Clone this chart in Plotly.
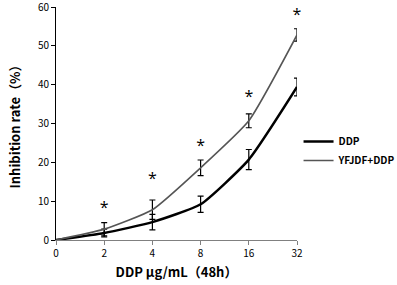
import plotly.graph_objects as go

doses = ["0", "2", "4", "8", "16", "32"]
ddp = [0, 1.8, 4.6, 9.2, 20.7, 39.4]
ddp_err = [0, 1.0, 2.0, 2.1, 2.6, 2.3]
combo = [0, 2.8, 7.8, 18.6, 30.7, 52.8]
combo_err = [0, 1.7, 2.5, 2.0, 1.8, 1.6]
star_y = [None, 8.0, 15.5, 24.0, 36.5, 57.8]
y_ticks = [0, 10, 20, 30, 40, 50, 60]

xpos = list(range(len(doses)))
FONT = "Noto Sans CJK SC"

fig = go.Figure()
fig.add_trace(go.Scatter(
    x=xpos, y=ddp, name="DDP", mode="lines",
    line=dict(color="#000000", width=2.5, shape="spline", smoothing=0.5),
    error_y=dict(type="data", array=ddp_err, color="#000000", thickness=1.2, width=3),
))
fig.add_trace(go.Scatter(
    x=xpos, y=combo, name="YFJDF+DDP", mode="lines",
    line=dict(color="#555555", width=1.6, shape="spline", smoothing=0.5),
    error_y=dict(type="data", array=combo_err, color="#000000", thickness=1.2, width=3),
))
sx = [x for x, s in zip(xpos, star_y) if s is not None]
sy = [s for s in star_y if s is not None]
fig.add_trace(go.Scatter(
    x=sx, y=sy, mode="text", text=["*"] * len(sx), showlegend=False,
    textfont=dict(family="Open Sans", size=16, color="#000000"), cliponaxis=False,
))

fig.update_layout(
    width=397, height=285,
    margin=dict(l=56, r=100, t=7, b=45, autoexpand=False),
    paper_bgcolor="white", plot_bgcolor="white",
    font=dict(family=FONT, size=10, color="#000000"),
    legend=dict(xref="container", yref="container", x=0.752, y=0.47,
                xanchor="left", yanchor="middle",
                font=dict(family=FONT, size=10, color="#000000", weight="bold"),
                itemwidth=30, tracegroupgap=4, bgcolor="rgba(0,0,0,0)"),
    showlegend=True,
)
fig.update_xaxes(
    range=[0, 5], tickmode="array", tickvals=xpos, ticktext=doses,
    showgrid=False, zeroline=False, showline=True, linecolor="#808080", linewidth=1,
    ticks="outside", ticklen=4, tickcolor="#808080", tickfont=dict(size=10),
    automargin=False, ticklabeloverflow="allow",
    title=dict(text="DDP μg/mL（48h）", font=dict(size=13, weight="bold"), standoff=8),
)
fig.update_yaxes(
    range=[0, 60], tickmode="array", tickvals=y_ticks,
    showgrid=False, zeroline=False, showline=True, linecolor="#000000", linewidth=1,
    ticks="outside", ticklen=4, tickcolor="#000000", tickfont=dict(size=10),
    automargin=False, ticklabeloverflow="allow",
    title=dict(text="Inhibition rate（%）", font=dict(size=13, weight="bold"), standoff=14),
)

fig.write_html("out.html", config={"displayModeBar": False},
               post_script="document.body.style.margin='0';document.body.style.padding='0';")
